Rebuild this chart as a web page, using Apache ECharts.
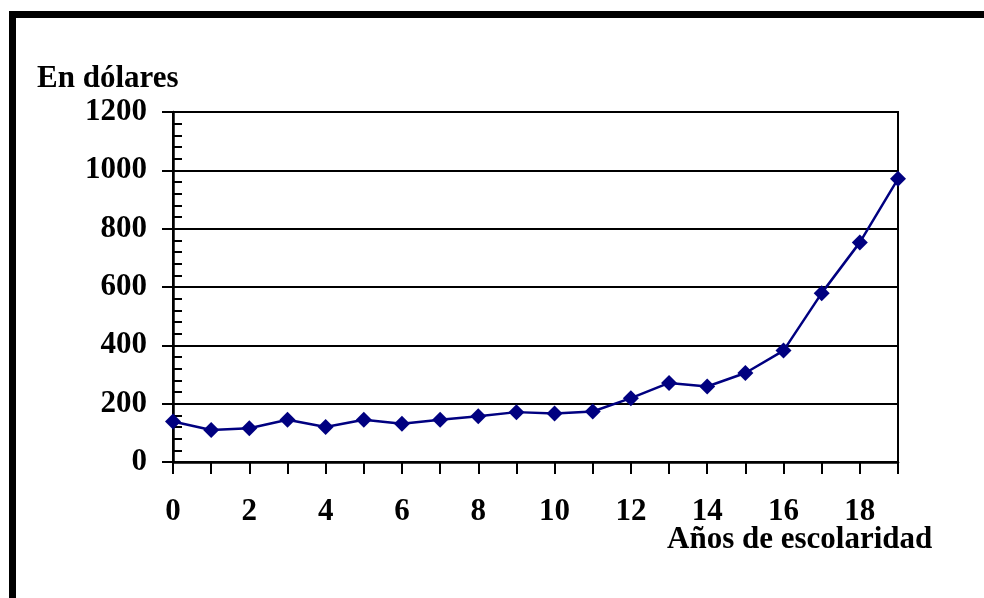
<!DOCTYPE html>
<html>
<head>
<meta charset="utf-8">
<script src="https://cdn.jsdelivr.net/npm/echarts@6/dist/echarts.min.js"></script>
<style>html,body{margin:0;padding:0;background:#fff;}#c{width:984px;height:598px;}</style>
</head>
<body>
<div id="c"></div>
<script>
const years = ['0','1','2','3','4','5','6','7','8','9','10','11','12','13','14','15','16','17','18','19'];
const dollars = [139,110,116,145,120,145,131,145,157,171,166,173,219,271,259,305,382,579,753,971];
const yTicks = [0,200,400,600,800,1000,1200];
const yTitle = 'En dólares';
const xTitle = 'Años de escolaridad';

const FONT = '"Liberation Serif","Times New Roman",serif';
const chart = echarts.init(document.getElementById('c'), null, {renderer:'canvas'});
chart.setOption({
  animation:false,
  backgroundColor:'#fff',
  title:[
    {text:yTitle, left:32, top:58, textStyle:{fontFamily:FONT, fontWeight:'bold', fontSize:31, color:'#000'}},
    {text:xTitle, left:662, top:519, textStyle:{fontFamily:FONT, fontWeight:'bold', fontSize:31, color:'#000'}}
  ],
  graphic:[
    {type:'rect', shape:{x:9, y:11, width:7, height:600}, style:{fill:'#000'}},
    {type:'rect', shape:{x:9, y:11, width:990, height:7}, style:{fill:'#000'}}
  ],
  grid:{left:173, right:86, top:112, bottom:136, show:true, borderColor:'#000', borderWidth:2, backgroundColor:'transparent'},
  xAxis:{
    type:'category', data:years, boundaryGap:false,
    axisLine:{lineStyle:{color:'#000', width:2.5}},
    axisTick:{show:true, interval:0, length:12, lineStyle:{color:'#000', width:2}},
    axisLabel:{interval:1, margin:34, fontFamily:FONT, fontWeight:'bold', fontSize:31, color:'#000'},
    splitLine:{show:false}
  },
  yAxis:[
    {
      type:'value', min:yTicks[0], max:yTicks[yTicks.length-1], interval:yTicks[1]-yTicks[0],
      axisLine:{show:true, lineStyle:{color:'#000', width:2.5}},
      axisTick:{show:true, length:11, lineStyle:{color:'#000', width:2}},
      axisLabel:{margin:26, fontFamily:FONT, fontWeight:'bold', fontSize:31, color:'#000',
        formatter:function(v){return yTicks.indexOf(v)>=0 ? String(v) : '';}},
      splitLine:{show:true, lineStyle:{color:'#000', width:2}}
    },
    {
      type:'value', min:0, max:1200, interval:40, position:'left',
      axisLine:{show:false}, axisLabel:{show:false}, splitLine:{show:false},
      axisTick:{show:true, inside:true, length:9, lineStyle:{color:'#000', width:2}}
    }
  ],
  series:[{
    type:'line', data:dollars, yAxisIndex:0,
    symbol:'diamond', symbolSize:16, showAllSymbol:true,
    lineStyle:{color:'#000080', width:2.5},
    itemStyle:{color:'#000080'}
  }]
});
</script>
</body>
</html>
